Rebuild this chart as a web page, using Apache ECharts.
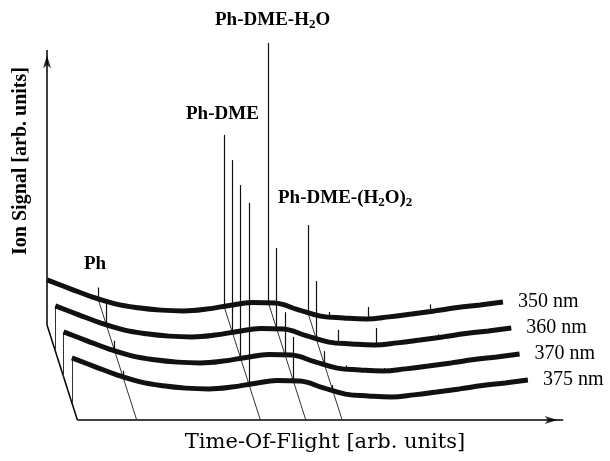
<!DOCTYPE html>
<html>
<head>
<meta charset="utf-8">
<script src="https://cdn.jsdelivr.net/npm/echarts@6/dist/echarts.min.js"></script>
<style>
  html, body { margin: 0; padding: 0; background: #fff; }
  #chart { width: 610px; height: 461px; }
</style>
</head>
<body>
<div id="chart"></div>
<script>
// time-of-flight samples (arb. units) and the common baseline of every trace
const tof = [0, 5, 10, 15, 20, 25, 30, 35, 40, 45, 50, 55, 60, 65, 70, 75, 80, 85, 90, 95, 100];
const baseline = [15.4, 12.1, 8.8, 6.2, 4.7, 3.8, 3.5, 4.2, 5.6, 6.7, 6.5, 4.0, 1.5, 0.8, 0.4, 1.2, 2.3, 3.5, 4.8, 5.8, 6.9];
const traceNames = ["350 nm", "360 nm", "370 nm", "375 nm"];

// peaks: position, foot (baseline level) and apex for each wavelength
const peakTof = [11.2, 38.8, 48.5, 57.2, 62.0, 70.4, 84.0];
const peakFoot = [8.1, 5.4, 6.9, 2.9, 1.2, 0.4, 3.1];
const apex350 = [12.5, 71.2, 106.5, 36.5, 3.1, 5.0, 6.0];
const apex360 = [16.5, 71.5, 37.7, 25.0, 6.2, 6.9, 4.5];
const apex370 = [12.0, 71.9, 23.0, 8.0, 2.5, 1.5, 4.0];
const apex375 = [10.5, 75.0, 23.5, 5.0, 2.0, 1.0, 4.0];
const apexes = [apex350, apex360, apex370, apex375];
const guidePeaks = [0, 1, 2, 3]; // peaks with a depth guide line

// layout of the pseudo 3d frame
const W = 610, H = 461;
const PX_PER_TOF = 4.56, PX_PER_SIG = 2.6;
const ORIGIN_X = 47, ORIGIN_Y = 320;
const DX = 1.82, DY = -10; // shift of one trace to the next
const AXIS_BOTTOM = -1.9, AXIS_TOP = 103.8, FLOOR = -38.5, FLOOR_END = 113.2;

const chart = echarts.init(document.getElementById("chart"), null, { renderer: "canvas" });

const lineSeg = (coords, width, color, z) => ({
  type: "lines",
  coordinateSystem: "cartesian2d",
  z: z,
  silent: true,
  lineStyle: { color: color, width: width, opacity: 1 },
  data: coords.map((c) => ({ coords: c })),
});

const series = [];

// frame
const t0 = (AXIS_BOTTOM - FLOOR) / -DY;
series.push(lineSeg([
  [[0, AXIS_BOTTOM], [0, AXIS_TOP]],
  [[0, AXIS_BOTTOM], [t0 * DX, FLOOR]],
  [[t0 * DX, FLOOR], [FLOOR_END, FLOOR]],
], 1.5, "#000", 2));
series.push({
  type: "scatter",
  z: 3,
  silent: true,
  itemStyle: { color: "#000" },
  data: [
    { value: [0, AXIS_TOP - 2], symbol: "arrow", symbolSize: [6, 13], symbolRotate: 0 },
    { value: [FLOOR_END - 1.2, FLOOR], symbol: "arrow", symbolSize: [6, 13], symbolRotate: -90 },
  ],
});

// drop lines at the start of the rear traces
const drops = [];
for (let k = 1; k < traceNames.length; k++) {
  drops.push([[k * DX, baseline[0] + k * DY], [k * DX, AXIS_BOTTOM + k * DY]]);
}
series.push(lineSeg(drops, 1, "#333", 2));

// depth guide lines through the main peaks
const guides = guidePeaks.map((i) => {
  const t = (peakFoot[i] - FLOOR) / -DY;
  return [[peakTof[i], peakFoot[i]], [peakTof[i] + t * DX, FLOOR]];
});
series.push(lineSeg(guides, 1, "#333", 2));

// peaks
const peakLines = [];
apexes.forEach((ap, k) => {
  ap.forEach((a, i) => {
    peakLines.push([[peakTof[i] + k * DX, peakFoot[i] + k * DY], [peakTof[i] + k * DX, a + k * DY]]);
  });
});
series.push(lineSeg(peakLines, 1.2, "#111", 4));

// traces
traceNames.forEach((name, k) => {
  series.push({
    type: "line",
    name: name,
    z: 5,
    smooth: 0.4,
    showSymbol: false,
    silent: true,
    lineStyle: { color: "#111", width: 5 },
    data: tof.map((t, i) => [t + k * DX, baseline[i] + k * DY]),
    endLabel: {
      show: true,
      formatter: name,
      distance: 15,
      color: "#000",
      fontFamily: "Liberation Serif",
      fontSize: 20,
    },
  });
});

const labelFont = { fontFamily: "Liberation Serif", fontWeight: "bold", fontSize: 19, fill: "#000" };
const rich = {
  n: { fontFamily: "Liberation Serif", fontWeight: "bold", fontSize: 19, color: "#000" },
  s: { fontFamily: "Liberation Serif", fontWeight: "bold", fontSize: 13, color: "#000", padding: [9, 0, 0, 0] },
};

const option = {
  backgroundColor: "#fff",
  animation: false,
  grid: { left: 0, right: 0, top: 0, bottom: 0 },
  xAxis: {
    type: "value",
    min: -ORIGIN_X / PX_PER_TOF,
    max: (W - ORIGIN_X) / PX_PER_TOF,
    show: false,
  },
  yAxis: {
    type: "value",
    min: -(H - ORIGIN_Y) / PX_PER_SIG,
    max: ORIGIN_Y / PX_PER_SIG,
    show: false,
  },
  graphic: [
    {
      type: "text", x: 21, y: 161, rotation: Math.PI / 2,
      style: { text: "Ion Signal [arb. units]", align: "center", verticalAlign: "middle",
        fontFamily: "Liberation Serif", fontWeight: "bold", fontSize: 20, fill: "#000" },
    },
    {
      type: "text", x: 325, y: 443,
      style: { text: "Time-Of-Flight [arb. units]", align: "center", verticalAlign: "middle",
        fontFamily: "DejaVu Serif", fontSize: 21, fill: "#000" },
    },
    { type: "text", x: 84, y: 264, style: Object.assign({ text: "Ph", verticalAlign: "middle" }, labelFont) },
    { type: "text", x: 186, y: 114, style: Object.assign({ text: "Ph-DME", verticalAlign: "middle" }, labelFont) },
    {
      type: "text", x: 215, y: 20,
      style: { text: "{n|Ph-DME-H}{s|2}{n|O}", rich: rich, verticalAlign: "middle" },
    },
    {
      type: "text", x: 278, y: 198,
      style: { text: "{n|Ph-DME-(H}{s|2}{n|O)}{s|2}", rich: rich, verticalAlign: "middle" },
    },
  ],
  series: series,
};

chart.setOption(option);
</script>
</body>
</html>
